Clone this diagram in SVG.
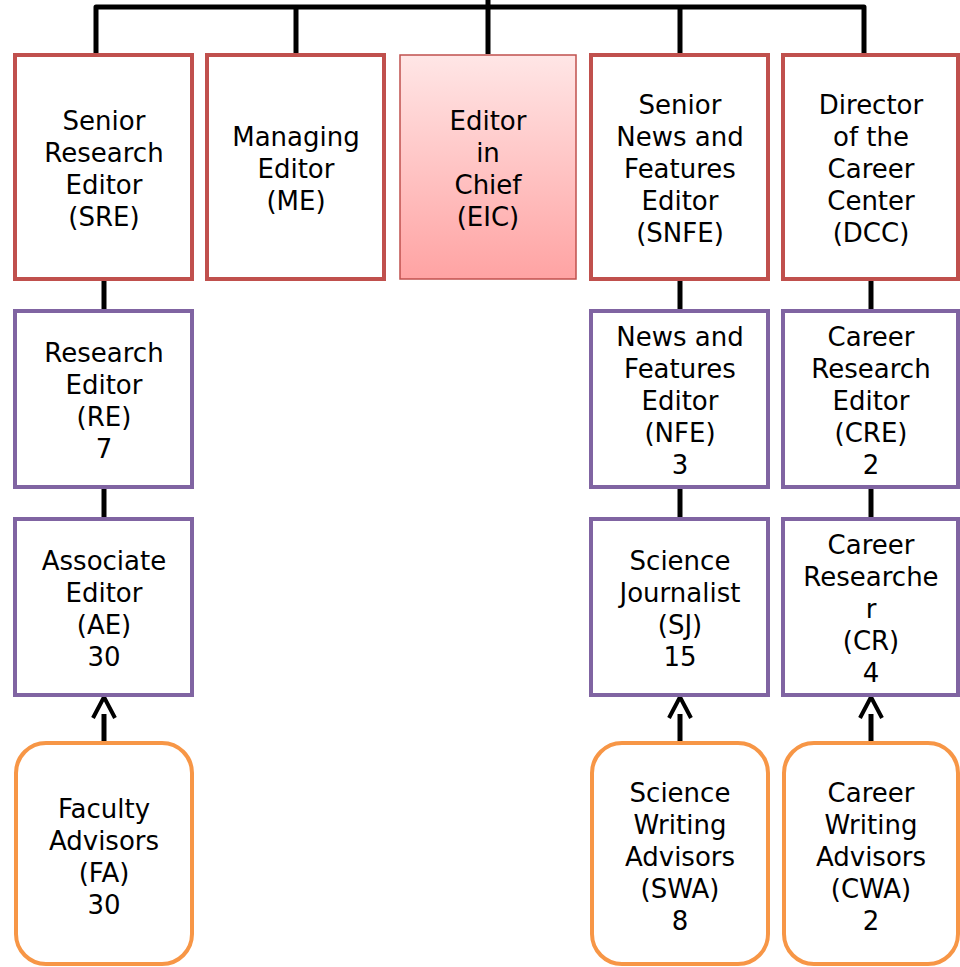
<svg xmlns="http://www.w3.org/2000/svg" width="960" height="967" viewBox="0 0 960 967">
<defs>
<linearGradient id="eicGrad" x1="0" y1="0" x2="0" y2="1">
<stop offset="0" stop-color="#ffe6e6"/>
<stop offset="1" stop-color="#ffa3a3"/>
</linearGradient>
<marker id="chev" viewBox="-10 -15 35 30" markerWidth="35" markerHeight="30" refX="0" refY="0" orient="auto" markerUnits="userSpaceOnUse" overflow="visible">
<path d="M-4,-11 L17,0 L-4,11" fill="none" stroke="#000" stroke-width="4"/>
</marker>
</defs>
<style>
.red{fill:#fff;stroke:#c0504d;stroke-width:4}
.eic{fill:url(#eicGrad);stroke:#c0504d;stroke-width:1.5}
.pur{fill:#fff;stroke:#8064a2;stroke-width:4}
.org{fill:#fff;stroke:#f79646;stroke-width:4}
.ln{fill:none;stroke:#000;stroke-width:5}
.ar{fill:none;stroke:#000;stroke-width:5;marker-end:url(#chev)}
text{font-family:"DejaVu Sans","Verdana",sans-serif;font-size:26px;fill:#000;text-anchor:middle}
</style>
<rect width="960" height="967" fill="#fff"/>
<g id="connectors">
<path class="ln" d="M96,54 V7 H864 V54" stroke-linejoin="round"/>
<line class="ln" x1="488" y1="0" x2="488" y2="54"/>
<line class="ln" x1="296" y1="7" x2="296" y2="54"/>
<line class="ln" x1="680" y1="7" x2="680" y2="54"/>
<line class="ln" x1="104" y1="279" x2="104" y2="310"/>
<line class="ln" x1="680" y1="279" x2="680" y2="310"/>
<line class="ln" x1="871" y1="279" x2="871" y2="310"/>
<line class="ln" x1="104" y1="487" x2="104" y2="518"/>
<line class="ln" x1="680" y1="487" x2="680" y2="518"/>
<line class="ln" x1="871" y1="487" x2="871" y2="518"/>
<line class="ar" x1="104" y1="742" x2="104" y2="714"/>
<line class="ar" x1="680" y1="742" x2="680" y2="714"/>
<line class="ar" x1="871" y1="742" x2="871" y2="714"/>
</g>
<g id="SRE">
<rect class="red" x="15" y="55" width="177" height="224"/>
<text x="104"><tspan x="104" y="130">Senior</tspan><tspan x="104" y="162">Research</tspan><tspan x="104" y="194">Editor</tspan><tspan x="104" y="226">(SRE)</tspan></text>
</g>
<g id="ME">
<rect class="red" x="207" y="55" width="177" height="224"/>
<text><tspan x="296" y="146">Managing</tspan><tspan x="296" y="178">Editor</tspan><tspan x="296" y="210">(ME)</tspan></text>
</g>
<g id="EIC">
<rect class="eic" x="400" y="55" width="176" height="224"/>
<text><tspan x="488" y="130">Editor</tspan><tspan x="488" y="162">in</tspan><tspan x="488" y="194">Chief</tspan><tspan x="488" y="226">(EIC)</tspan></text>
</g>
<g id="SNFE">
<rect class="red" x="591" y="55" width="177" height="224"/>
<text><tspan x="680" y="114">Senior</tspan><tspan x="680" y="146">News and</tspan><tspan x="680" y="178">Features</tspan><tspan x="680" y="210">Editor</tspan><tspan x="680" y="242">(SNFE)</tspan></text>
</g>
<g id="DCC">
<rect class="red" x="783" y="55" width="175" height="224"/>
<text><tspan x="871" y="114">Director</tspan><tspan x="871" y="146">of the</tspan><tspan x="871" y="178">Career</tspan><tspan x="871" y="210">Center</tspan><tspan x="871" y="242">(DCC)</tspan></text>
</g>
<g id="RE">
<rect class="pur" x="15" y="311" width="177" height="176"/>
<text><tspan x="104" y="362">Research</tspan><tspan x="104" y="394">Editor</tspan><tspan x="104" y="426">(RE)</tspan><tspan x="104" y="458">7</tspan></text>
</g>
<g id="NFE">
<rect class="pur" x="591" y="311" width="177" height="176"/>
<text><tspan x="680" y="346">News and</tspan><tspan x="680" y="378">Features</tspan><tspan x="680" y="410">Editor</tspan><tspan x="680" y="442">(NFE)</tspan><tspan x="680" y="474">3</tspan></text>
</g>
<g id="CRE">
<rect class="pur" x="783" y="311" width="175" height="176"/>
<text><tspan x="871" y="346">Career</tspan><tspan x="871" y="378">Research</tspan><tspan x="871" y="410">Editor</tspan><tspan x="871" y="442">(CRE)</tspan><tspan x="871" y="474">2</tspan></text>
</g>
<g id="AE">
<rect class="pur" x="15" y="519" width="177" height="176"/>
<text><tspan x="104" y="570">Associate</tspan><tspan x="104" y="602">Editor</tspan><tspan x="104" y="634">(AE)</tspan><tspan x="104" y="666">30</tspan></text>
</g>
<g id="SJ">
<rect class="pur" x="591" y="519" width="177" height="176"/>
<text><tspan x="680" y="570">Science</tspan><tspan x="680" y="602">Journalist</tspan><tspan x="680" y="634">(SJ)</tspan><tspan x="680" y="666">15</tspan></text>
</g>
<g id="CR">
<rect class="pur" x="783" y="519" width="175" height="176"/>
<text><tspan x="871" y="554">Career</tspan><tspan x="871" y="586">Researche</tspan><tspan x="871" y="618">r</tspan><tspan x="871" y="650">(CR)</tspan><tspan x="871" y="682">4</tspan></text>
</g>
<g id="FA">
<rect class="org" x="16" y="743" width="176" height="221" rx="30" ry="30"/>
<text><tspan x="104" y="818">Faculty</tspan><tspan x="104" y="850">Advisors</tspan><tspan x="104" y="882">(FA)</tspan><tspan x="104" y="914">30</tspan></text>
</g>
<g id="SWA">
<rect class="org" x="592" y="743" width="176" height="221" rx="30" ry="30"/>
<text><tspan x="680" y="802">Science</tspan><tspan x="680" y="834">Writing</tspan><tspan x="680" y="866">Advisors</tspan><tspan x="680" y="898">(SWA)</tspan><tspan x="680" y="930">8</tspan></text>
</g>
<g id="CWA">
<rect class="org" x="784" y="743" width="174" height="221" rx="30" ry="30"/>
<text><tspan x="871" y="802">Career</tspan><tspan x="871" y="834">Writing</tspan><tspan x="871" y="866">Advisors</tspan><tspan x="871" y="898">(CWA)</tspan><tspan x="871" y="930">2</tspan></text>
</g>
</svg>
